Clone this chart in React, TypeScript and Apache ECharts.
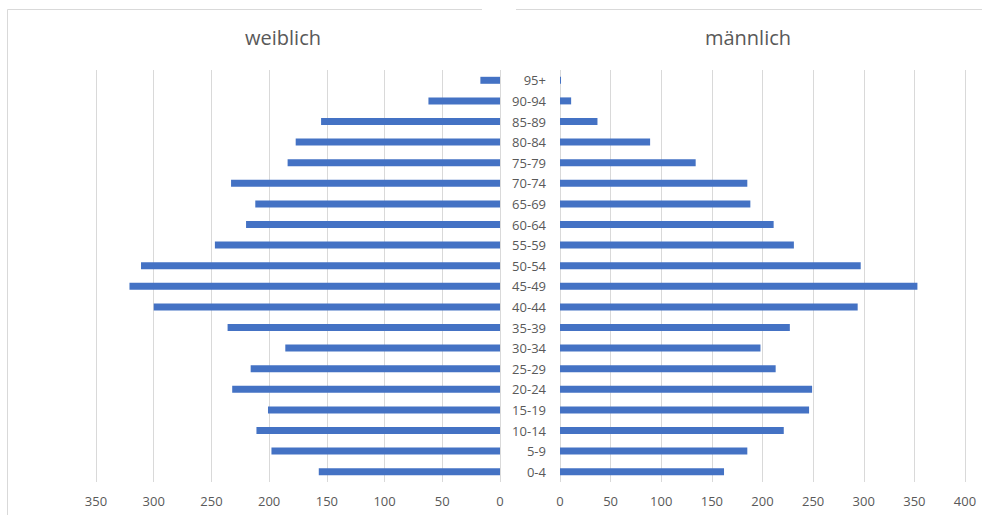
import React, { useEffect, useRef } from "react";
import * as echarts from "echarts";

// Age groups, bottom to top
const ageGroups = [
  "0-4", "5-9", "10-14", "15-19", "20-24", "25-29", "30-34", "35-39", "40-44", "45-49",
  "50-54", "55-59", "60-64", "65-69", "70-74", "75-79", "80-84", "85-89", "90-94", "95+",
];

const female = [157, 198, 211, 201, 232, 216, 186, 236, 300, 321, 311, 247, 220, 212, 233, 184, 177, 155, 62, 17];
const male = [162, 185, 221, 246, 249, 213, 198, 227, 294, 353, 297, 231, 211, 188, 185, 134, 89, 37, 11, 1];

const titleFemale = "weiblich";
const titleMale = "männlich";

const FONT = "'Open Sans', 'Noto Sans', sans-serif";
const TEXT = "#595959";
const GRID = "#d9d9d9";
const BAR = "#4472C4";

export default function App() {
  const ref = useRef<HTMLDivElement>(null);

  useEffect(() => {
    if (!ref.current) return;
    const chart = echarts.init(ref.current, undefined, { renderer: "svg" });

    const valueLabel = { color: TEXT, fontSize: 13, fontFamily: FONT, margin: 12 };
    const splitLine = { show: true, lineStyle: { color: GRID, width: 1 } };

    chart.setOption({
      animation: false,
      backgroundColor: "#ffffff",
      textStyle: { fontFamily: FONT },
      title: [
        {
          text: titleFemale,
          left: 278,
          top: 22,
          textAlign: "center",
          textStyle: { color: TEXT, fontSize: 20, fontWeight: "normal", fontFamily: FONT },
        },
        {
          text: titleMale,
          left: 743,
          top: 22,
          textAlign: "center",
          textStyle: { color: TEXT, fontSize: 20, fontWeight: "normal", fontFamily: FONT },
        },
      ],
      graphic: [
        { type: "line", shape: { x1: 7.5, y1: 9.5, x2: 482, y2: 9.5 }, style: { stroke: GRID, lineWidth: 1 }, silent: true },
        { type: "line", shape: { x1: 7.5, y1: 9.5, x2: 7.5, y2: 515 }, style: { stroke: GRID, lineWidth: 1 }, silent: true },
        { type: "line", shape: { x1: 516, y1: 9.5, x2: 982, y2: 9.5 }, style: { stroke: GRID, lineWidth: 1 }, silent: true },
      ],
      grid: [
        { left: 96, right: 482, top: 70, bottom: 33 },
        { left: 560, right: 17, top: 70, bottom: 33 },
      ],
      xAxis: [
        {
          gridIndex: 0,
          type: "value",
          inverse: true,
          min: 0,
          max: 350,
          interval: 50,
          axisLine: { show: false },
          axisTick: { show: false },
          axisLabel: valueLabel,
          splitLine,
        },
        {
          gridIndex: 1,
          type: "value",
          min: 0,
          max: 400,
          interval: 50,
          axisLine: { show: false },
          axisTick: { show: false },
          axisLabel: valueLabel,
          splitLine,
        },
      ],
      yAxis: [
        {
          gridIndex: 0,
          type: "category",
          data: ageGroups,
          axisLine: { show: false },
          axisTick: { show: false },
          axisLabel: { show: false },
        },
        {
          gridIndex: 1,
          type: "category",
          data: ageGroups,
          axisLine: { show: false },
          axisTick: { show: false },
          axisLabel: { color: TEXT, fontSize: 13, fontFamily: FONT, margin: 14 },
        },
      ],
      series: [
        {
          name: titleFemale,
          type: "bar",
          xAxisIndex: 0,
          yAxisIndex: 0,
          data: female,
          barWidth: 7,
          itemStyle: { color: BAR },
        },
        {
          name: titleMale,
          type: "bar",
          xAxisIndex: 1,
          yAxisIndex: 1,
          data: male,
          barWidth: 7,
          itemStyle: { color: BAR },
        },
      ],
    });

    return () => chart.dispose();
  }, []);

  return <div ref={ref} style={{ width: 982, height: 515, position: "absolute", left: 0, top: 0 }} />;
}
